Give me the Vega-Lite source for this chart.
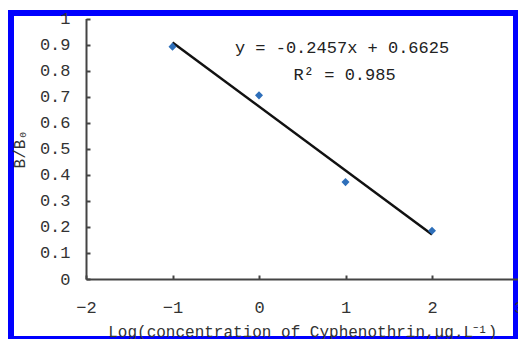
{
  "$schema": "https://vega.github.io/schema/vega-lite/v6.json",
  "autosize": "none",
  "width": 505,
  "height": 326,
  "padding": {"left": 11, "top": 13, "right": 2, "bottom": 0},
  "background": "white",
  "config": {
    "view": {"stroke": "#0000ff", "strokeWidth": 6},
    "font": "Liberation Mono",
    "axis": {"grid": false, "domainColor": "#444", "domainWidth": 2, "tickColor": "#444", "tickWidth": 2, "labelColor": "#333", "titleColor": "#333", "labelFont": "Liberation Mono", "titleFont": "Liberation Mono", "titleFontWeight": "normal"}
  },
  "datasets": {
    "points": [
      {"x": -1, "y": 0.892},
      {"x": 0, "y": 0.705},
      {"x": 1, "y": 0.372},
      {"x": 2, "y": 0.185}
    ],
    "fit": [
      {"x": -1, "y": 0.9082},
      {"x": 2, "y": 0.1711}
    ],
    "labels": [
      {"x": 0.96, "y": 0.885, "t": "y = -0.2457x + 0.6625"},
      {"x": 0.99, "y": 0.782, "t": "R² = 0.985"}
    ]
  },
  "encoding": {
    "x": {"field": "x", "type": "quantitative",
      "scale": {"domain": [-2, 3], "range": [75, 507.5], "nice": false, "zero": false},
      "axis": {"offset": -60, "values": [-2, -1, 0, 1, 2, 3], "tickSize": -4, "labelPadding": 24, "labelFlush": false, "labelOverlap": false, "labelFontSize": 17, "format": "~g", "title": "Log(concentration of Cyphenothrin,μg.L⁻¹)", "titleFontSize": 16, "titlePadding": 8}},
    "y": {"field": "y", "type": "quantitative",
      "scale": {"domain": [0, 1], "range": [266, 5.5], "nice": false, "zero": false},
      "axis": {"offset": -75, "values": [0, 0.1, 0.2, 0.3, 0.4, 0.5, 0.6, 0.7, 0.8, 0.9, 1], "tickCount": 11, "tickSize": -4, "labelPadding": 20, "labelFlush": false, "labelOverlap": false, "labelFontSize": 17, "format": "~g", "title": "B/B₀", "titleFontSize": 16, "titlePadding": 12}}
  },
  "layer": [
    {
      "data": {"name": "fit"},
      "mark": {"type": "line", "color": "#111", "strokeWidth": 2.5}
    },
    {
      "data": {"name": "points"},
      "mark": {"type": "point", "shape": "diamond", "filled": true, "color": "#2e6fba", "opacity": 1, "size": 65}
    },
    {
      "data": {"name": "labels"},
      "mark": {"type": "text", "fontSize": 17, "color": "#222", "font": "Liberation Mono"},
      "encoding": {
        "text": {"field": "t"}
      }
    }
  ]
}
